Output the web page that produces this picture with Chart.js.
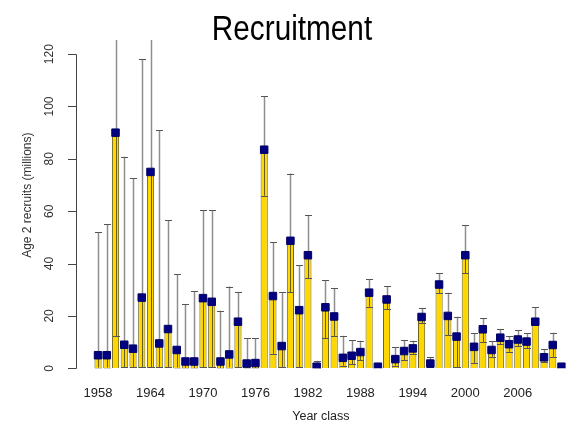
<!DOCTYPE html>
<html>
<head>
<meta charset="utf-8">
<title>Recruitment</title>
<script src="https://cdn.jsdelivr.net/npm/chart.js@4"></script>
<style>
  html, body { margin: 0; padding: 0; background: #fff; }
  #wrap { width: 572px; height: 424px; }
</style>
</head>
<body>
<div id="wrap"><canvas id="myChart" width="572" height="424"></canvas></div>
<script>
const years = [];
for (let y = 1958; y <= 2011; y++) years.push(y);

// age 2 recruits (millions)
const recruits = [
  5, 5, 90, 9, 7.5, 27, 75, 9.5, 15, 7,
  2.6, 2.6, 26.8, 25.4, 2.6, 5.3, 17.8, 1.8, 2, 83.5,
  27.6, 8.5, 48.7, 22.2, 43.2, 0.6, 23.3, 19.8, 4, 4.8,
  6.2, 28.9, 0.6, 26.3, 3.5, 6.6, 7.6, 19.6, 1.8, 32,
  20, 12.1, 43.2, 8.2, 14.9, 7, 11.7, 9.2, 11, 10.2,
  17.8, 4.2, 8.9, 0.6
];
const upperCI = [
  52, 55, 150, 80.8, 72.5, 118, 150, 91, 56.5, 36,
  24.4, 29.5, 60.4, 60.4, 22, 31.2, 29, 11.4, 11.4, 104,
  48.2, 29, 74.4, 39.4, 58.5, 2.9, 33.6, 30.5, 12.4, 10.8,
  10.5, 34, 0.6, 31.4, 8, 10.8, 10.5, 22.9, 4.2, 36.3,
  28.9, 19.7, 54.7, 13.4, 19.1, 10.3, 14.9, 12.3, 14.6, 13.4,
  23.3, 7.3, 13.6, 0.6
];
const lowerCI = [
  0.3, 0.3, 12.3, 0.5, 0.5, 0.5, 0.5, 0.5, 0.5, 0.3,
  0.1, 0.1, 0.5, 0.5, 0.1, 0.3, 0.5, 0.1, 0.1, 65.9,
  5.5, 0.5, 29, 0.5, 34.5, 0.1, 11.4, 12.4, 1, 1.5,
  3.2, 23.5, 0.6, 22.5, 1, 3.2, 5.5, 17.2, 0.5, 28.6,
  12.7, 0.5, 36.3, 1.9, 9.9, 4.4, 9.2, 6.3, 8.5, 7.6,
  16.5, 2.5, 4.4, 0.6
];

const xTickYears = [1958, 1964, 1970, 1976, 1982, 1988, 1994, 2000, 2006];
const yTickValues = [0, 20, 40, 60, 80, 100, 120];

const FONT = "'Liberation Sans', Arial, sans-serif";

// whiskers drawn right after the bars, under the square markers
const errorBars = {
  id: 'errorBars',
  afterDatasetDraw(chart, args) {
    if (args.index !== 0) return;
    const ctx = chart.ctx;
    const ys = chart.scales.y;
    const area = chart.chartArea;
    const bars = args.meta.data;
    ctx.save();
    ctx.beginPath();
    ctx.rect(area.left, area.top, area.right - area.left, area.bottom - area.top);
    ctx.clip();
    bars.forEach((bar, i) => {
      if (upperCI[i] <= recruits[i] && lowerCI[i] >= recruits[i]) return;
      const x = Math.round(bar.x) + 0.5;
      const yHi = ys.getPixelForValue(upperCI[i]);
      const yLo = ys.getPixelForValue(lowerCI[i]);
      const yMid = ys.getPixelForValue(recruits[i]);
      // part inside the bar
      ctx.strokeStyle = '#6b5d10';
      ctx.lineWidth = 1;
      ctx.beginPath();
      ctx.moveTo(x, yLo);
      ctx.lineTo(x, yMid);
      ctx.stroke();
      // part above the bar
      ctx.strokeStyle = '#8e8e8e';
      ctx.lineWidth = 1.5;
      ctx.beginPath();
      ctx.moveTo(x, yMid);
      ctx.lineTo(x, yHi);
      ctx.stroke();
      ctx.strokeStyle = '#555';
      ctx.lineWidth = 1;
      ctx.beginPath();
      ctx.moveTo(x - 3.5, Math.round(yHi) + 0.5);
      ctx.lineTo(x + 3.5, Math.round(yHi) + 0.5);
      ctx.moveTo(x - 3.5, Math.round(yLo) + 0.5);
      ctx.lineTo(x + 3.5, Math.round(yLo) + 0.5);
      ctx.stroke();
    });
    ctx.restore();
  }
};

// R style y axis (line only spans the ticks, labels on their side) and the title
const rAxis = {
  id: 'rAxis',
  afterDraw(chart) {
    const ctx = chart.ctx;
    const ys = chart.scales.y;
    const x0 = chart.chartArea.left;
    const yTop = ys.getPixelForValue(yTickValues[yTickValues.length - 1]);
    const yBot = ys.getPixelForValue(yTickValues[0]);
    ctx.save();
    ctx.strokeStyle = '#444';
    ctx.lineWidth = 1;
    ctx.beginPath();
    ctx.moveTo(x0 + 0.5, Math.round(yTop) + 0.5);
    ctx.lineTo(x0 + 0.5, Math.round(yBot) + 0.5);
    yTickValues.forEach(v => {
      const py = Math.round(ys.getPixelForValue(v)) + 0.5;
      ctx.moveTo(x0 + 0.5, py);
      ctx.lineTo(x0 - 8, py);
    });
    ctx.stroke();

    ctx.fillStyle = '#333';
    ctx.font = '12px ' + FONT;
    ctx.textAlign = 'center';
    ctx.textBaseline = 'middle';
    yTickValues.forEach(v => {
      ctx.save();
      ctx.translate(50, ys.getPixelForValue(v));
      ctx.rotate(-Math.PI / 2);
      ctx.fillText(String(v), 0, 0);
      ctx.restore();
    });

    ctx.save();
    ctx.translate(28, (chart.chartArea.top + chart.chartArea.bottom) / 2 - 9);
    ctx.rotate(-Math.PI / 2);
    ctx.fillText('Age 2 recruits (millions)', 0, 0);
    ctx.restore();

    // narrow title, as in the original figure
    ctx.save();
    ctx.fillStyle = '#000';
    ctx.font = '35px ' + FONT;
    ctx.textBaseline = 'alphabetic';
    ctx.translate(292, 40);
    ctx.scale(0.85, 1);
    ctx.fillText('Recruitment', 0, 0);
    ctx.restore();
    ctx.restore();
  }
};

new Chart('myChart', {
  type: 'bar',
  data: {
    labels: years,
    datasets: [
      {
        type: 'bar',
        data: recruits,
        backgroundColor: '#FFD700',
        borderColor: '#6e6420',
        borderWidth: 1,
        barPercentage: 0.82,
        categoryPercentage: 1,
        order: 1
      },
      {
        type: 'line',
        data: recruits,
        showLine: false,
        pointStyle: 'rect',
        pointRadius: 5.3,
        pointBackgroundColor: '#000080',
        pointBorderColor: '#000066',
        pointBorderWidth: 1,
        order: 0
      }
    ]
  },
  options: {
    responsive: false,
    animation: false,
    events: [],
    layout: { padding: { left: 0, right: 1, top: 40, bottom: 0 } },
    plugins: {
      legend: { display: false },
      tooltip: { enabled: false },
      title: { display: false }
    },
    scales: {
      x: {
        type: 'linear',
        min: 1955.48,
        max: 2011.48,
        offset: false,
        grid: { display: false },
        border: { display: false },
        afterBuildTicks: (s) => { s.ticks = xTickYears.map(v => ({ value: v })); },
        afterFit: (s) => { s.height = 55.7; },
        ticks: {
          autoSkip: false,
          maxRotation: 0,
          padding: 9,
          color: '#222',
          font: { family: FONT, size: 13 },
          callback: (v) => String(v)
        },
        title: {
          display: true,
          text: 'Year class',
          color: '#222',
          font: { family: FONT, size: 12.5 },
          padding: { top: 0, bottom: 0 }
        }
      },
      y: {
        min: 0,
        max: 125.4,
        grid: { display: false },
        border: { display: false },
        ticks: { display: false },
        afterFit: (s) => { s.width = 76; }
      }
    }
  },
  plugins: [errorBars, rAxis]
});
</script>
</body>
</html>
